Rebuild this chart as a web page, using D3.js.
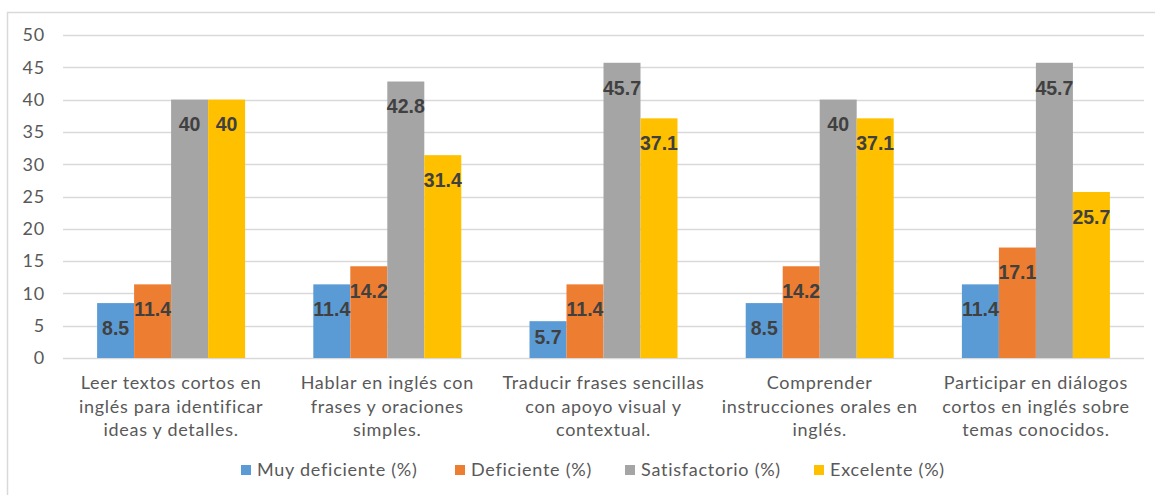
<!DOCTYPE html>
<html><head><meta charset="utf-8">
<script src="https://cdn.jsdelivr.net/npm/d3@7"></script>
<style>
html,body{margin:0;padding:0;background:#fff;}
svg{display:block;}
</style></head>
<body>
<svg id="chart" width="1155" height="495"></svg>
<script>
const categories = [
  ["Leer textos cortos en", "inglés para identificar", "ideas y detalles."],
  ["Hablar en inglés con", "frases y oraciones", "simples."],
  ["Traducir frases sencillas", "con apoyo visual y", "contextual."],
  ["Comprender", "instrucciones orales en", "inglés."],
  ["Participar en diálogos", "cortos en inglés sobre", "temas conocidos."]
];
const seriesNames = ["Muy deficiente (%)", "Deficiente (%)", "Satisfactorio (%)", "Excelente (%)"];
const muyDeficiente = [8.5, 11.4, 5.7, 8.5, 11.4];
const deficiente = [11.4, 14.2, 11.4, 14.2, 17.1];
const satisfactorio = [40, 42.8, 45.7, 40, 45.7];
const excelente = [40, 31.4, 37.1, 37.1, 25.7];
const yTicks = [0, 5, 10, 15, 20, 25, 30, 35, 40, 45, 50];

const seriesValues = [muyDeficiente, deficiente, satisfactorio, excelente];
const colors = ["#5B9BD5", "#ED7D31", "#A5A5A5", "#FFC000"];

const svg = d3.select("#chart");
const catFont = "Lato, 'Open Sans', sans-serif";

// outer border
svg.append("rect").attr("x", 7.5).attr("y", 12.5).attr("width", 1160).attr("height", 500)
  .attr("fill", "none").attr("stroke", "#d9d9d9").attr("stroke-width", 1.5);

const plotL = 63, plotR = 1144, plotT = 35, plotB = 358;
const y = d3.scaleLinear().domain([0, 50]).range([plotB, plotT]);
const catIdx = categories.map((c, i) => i);
const x0 = d3.scaleBand().domain(catIdx).range([plotL, plotR]).paddingInner(0.3155).paddingOuter(0.3155 / 2);
const x1 = d3.scaleBand().domain(d3.range(seriesNames.length)).range([0, x0.bandwidth()]).padding(0);

// gridlines
svg.append("g").selectAll("line").data(yTicks).join("line")
  .attr("x1", plotL).attr("x2", plotR)
  .attr("y1", d => Math.round(y(d)) + 0.5).attr("y2", d => Math.round(y(d)) + 0.5)
  .attr("stroke", "#d9d9d9").attr("stroke-width", 1.5);

// y labels
svg.append("g").selectAll("text").data(yTicks).join("text")
  .attr("x", 45).attr("y", d => y(d)).attr("dy", "0.35em")
  .attr("text-anchor", "end").attr("fill", "#595959")
  .style("font-family", catFont).style("font-size", "18px").style("letter-spacing", "0.8px")
  .text(d => d);

// bars
const groups = svg.append("g").selectAll("g").data(catIdx).join("g")
  .attr("transform", i => `translate(${x0(i)},0)`);

groups.selectAll("rect").data(i => seriesValues.map((s, k) => ({k, v: s[i]}))).join("rect")
  .attr("x", d => x1(d.k)).attr("width", x1.bandwidth())
  .attr("y", d => y(d.v)).attr("height", d => y(0) - y(d.v))
  .attr("fill", d => colors[d.k]);

groups.selectAll("text.val").data(i => seriesValues.map((s, k) => ({k, v: s[i]}))).join("text")
  .attr("class", "val")
  .attr("x", d => x1(d.k) + x1.bandwidth() / 2)
  .attr("y", d => Math.min(y(d.v) + 25, y(0) - 21))
  .attr("dy", "0.35em")
  .attr("text-anchor", "middle").attr("fill", "#404040")
  .style("font-family", "'Liberation Sans', Arial, sans-serif").style("font-weight", "bold").style("font-size", "19.5px")
  .text(d => d.v);

// category labels
const catG = svg.append("g").selectAll("text").data(catIdx).join("text")
  .attr("text-anchor", "middle").attr("fill", "#595959")
  .style("font-family", catFont).style("font-size", "18px").style("letter-spacing", "0.7px");
catG.selectAll("tspan").data(i => categories[i].map((l, j) => ({i, l, j}))).join("tspan")
  .attr("x", d => x0(d.i) + x0.bandwidth() / 2)
  .attr("y", d => 383 + d.j * 23.5).attr("dy", "0.35em")
  .text(d => d.l);

// legend
const legendX = [241, 455, 625, 814];
const lg = svg.append("g").selectAll("g").data(seriesNames).join("g")
  .attr("transform", (d, i) => `translate(${legendX[i]},470)`);
lg.append("rect").attr("x", 0).attr("y", -5).attr("width", 10).attr("height", 10).attr("fill", (d, i) => colors[i]);
lg.append("text").attr("x", 16).attr("y", 0).attr("dy", "0.35em").attr("fill", "#595959")
  .style("font-family", catFont).style("font-size", "18px").style("letter-spacing", "0.75px").text(d => d);
</script>
</body></html>
